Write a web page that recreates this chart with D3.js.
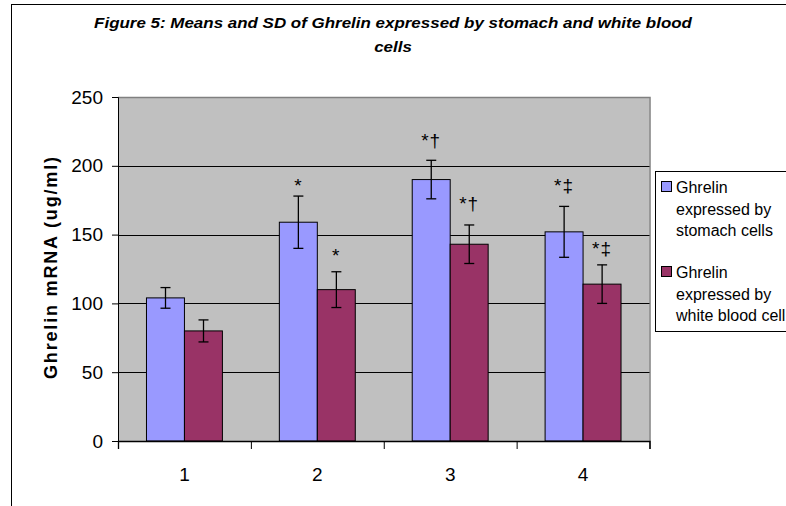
<!DOCTYPE html>
<html>
<head>
<meta charset="utf-8">
<script src="https://cdn.jsdelivr.net/npm/d3@7"></script>
<style>
  html, body { margin: 0; padding: 0; background: #fff; }
  svg { display: block; }
  text { font-family: "Liberation Sans", Arial, sans-serif; fill: #000; }
</style>
</head>
<body>
<svg id="chart" width="786" height="506"></svg>
<script>
// Groups on the x axis
const categories = ["1", "2", "3", "4"];
const seriesNames = ["stomach", "wbc"];
const legendLines = [
  ["Ghrelin", "expressed by", "stomach cells"],
  ["Ghrelin", "expressed by", "white blood cell"]
];

// Means and standard deviations (ug/ml)
const stomachMeans = [104, 159, 190, 152];
const stomachSD = [7.5, 19, 14, 18.5];
const wbcMeans = [80, 110, 143, 114];
const wbcSD = [8, 13, 14, 14];

// Significance marks and the value level their baseline sits at
const stomachMarks = ["", "*", "*\u2020", "*\u2021"];
const stomachMarkAt = [0, 181, 214, 181];
const wbcMarks = ["", "*", "*\u2020", "*\u2021"];
const wbcMarkAt = [0, 130, 168, 135.5];

const yTicks = [0, 50, 100, 150, 200, 250];

const colors = { stomach: "#9999FF", wbc: "#993366" };

const svg = d3.select("#chart");
const plot = { left: 118, right: 649.5, top: 97, bottom: 441 };

// Chart frame
svg.append("rect")
  .attr("x", 11.5).attr("y", 4.5)
  .attr("width", 900).attr("height", 700)
  .attr("fill", "#fff").attr("stroke", "#000").attr("stroke-width", 1);

// Scales
const x = d3.scaleBand().domain(categories).range([plot.left, plot.right]);
const xSub = d3.scaleBand().domain(seriesNames).range([0, x.bandwidth()])
  .paddingInner(0).paddingOuter(0.75);
const y = d3.scaleLinear().domain([0, 250]).range([plot.bottom, plot.top]);

// Plot area
svg.append("rect")
  .attr("x", plot.left).attr("y", plot.top)
  .attr("width", plot.right - plot.left).attr("height", plot.bottom - plot.top)
  .attr("fill", "#C0C0C0");
svg.append("path")
  .attr("d", `M${plot.left},${plot.top + 0.5}H${plot.right + 0.5}V${plot.bottom}`)
  .attr("fill", "none").attr("stroke", "#808080").attr("stroke-width", 1.5);

// Gridlines
svg.append("g")
  .selectAll("line")
  .data(yTicks.filter(t => t > 0 && t < 250))
  .join("line")
  .attr("x1", plot.left).attr("x2", plot.right)
  .attr("y1", d => Math.round(y(d)) + 0.5).attr("y2", d => Math.round(y(d)) + 0.5)
  .attr("stroke", "#000").attr("stroke-width", 1);

// Bars
const rows = categories.map((c, i) => ({
  cat: c,
  items: [
    { key: "stomach", mean: stomachMeans[i], sd: stomachSD[i], mark: stomachMarks[i], markAt: stomachMarkAt[i] },
    { key: "wbc", mean: wbcMeans[i], sd: wbcSD[i], mark: wbcMarks[i], markAt: wbcMarkAt[i] }
  ]
}));

const groups = svg.append("g").selectAll("g")
  .data(rows)
  .join("g")
  .attr("transform", d => `translate(${x(d.cat)},0)`);

groups.selectAll("rect")
  .data(d => d.items)
  .join("rect")
  .attr("x", d => xSub(d.key))
  .attr("y", d => y(d.mean))
  .attr("width", xSub.bandwidth())
  .attr("height", d => y(0) - y(d.mean))
  .attr("fill", d => colors[d.key])
  .attr("stroke", "#000").attr("stroke-width", 1);

// Error bars
const err = groups.selectAll("g.err")
  .data(d => d.items)
  .join("g").attr("class", "err")
  .attr("transform", d => `translate(${Math.round(xSub(d.key) + xSub.bandwidth() / 2) + 0.5},0)`);
err.append("line")
  .attr("x1", 0).attr("x2", 0)
  .attr("y1", d => y(d.mean + d.sd)).attr("y2", d => y(d.mean - d.sd))
  .attr("stroke", "#000").attr("stroke-width", 1.3);
err.selectAll("line.cap")
  .data(d => [d.mean + d.sd, d.mean - d.sd])
  .join("line").attr("class", "cap")
  .attr("x1", -5).attr("x2", 5)
  .attr("y1", d => y(d)).attr("y2", d => y(d))
  .attr("stroke", "#000").attr("stroke-width", 1.3);

// Significance marks
groups.selectAll("text.mark")
  .data(d => d.items.filter(it => it.mark))
  .join("text").attr("class", "mark")
  .attr("x", d => xSub(d.key) + xSub.bandwidth() / 2)
  .attr("y", d => y(d.markAt))
  .attr("text-anchor", "middle")
  .style("font-size", "19px")
  .style("letter-spacing", "1px")
  .text(d => d.mark);

// Y axis
const yAxis = svg.append("g")
  .attr("transform", `translate(${plot.left},0)`)
  .call(d3.axisLeft(y).tickValues(yTicks).tickSize(6).tickPadding(9));
yAxis.select(".domain").attr("stroke", "#000");
yAxis.selectAll("line").attr("stroke", "#000");
yAxis.selectAll("text").style("font-size", "19px").attr("fill", "#000");

// X axis: boundary ticks plus centered category labels
const xEdges = d3.scaleLinear().domain([0, categories.length]).range([plot.left, plot.right]);
const xAxis = svg.append("g")
  .attr("transform", `translate(0,${plot.bottom})`)
  .call(d3.axisBottom(xEdges).tickValues(d3.range(categories.length + 1)).tickSize(8).tickFormat(""));
xAxis.select(".domain").attr("stroke", "#000").attr("stroke-width", 1.3);
xAxis.selectAll("line").attr("stroke", "#000");

const xLabels = svg.append("g")
  .attr("transform", `translate(0,${plot.bottom})`)
  .call(d3.axisBottom(x).tickSize(0).tickPadding(27));
xLabels.select(".domain").remove();
xLabels.selectAll("text").style("font-size", "19px").attr("fill", "#000");

// Y axis title
svg.append("text")
  .attr("transform", "translate(57,268) rotate(-90)")
  .attr("text-anchor", "middle")
  .style("font-size", "18px").style("font-weight", "bold")
  .attr("textLength", 222).attr("lengthAdjust", "spacing")
  .text("Ghrelin mRNA (ug/ml)");

// Title (condensed bold italic)
const title = svg.append("g").attr("class", "title");
const t1 = title.append("text")
  .attr("x", 0).attr("y", 28)
  .attr("text-anchor", "middle")
  .style("font-size", "15px").style("font-weight", "bold").style("font-style", "italic")
  .text("Figure 5: Means and SD of Ghrelin expressed by stomach and white blood");
title.append("text")
  .attr("x", 0).attr("y", 52)
  .attr("text-anchor", "middle")
  .style("font-size", "15px").style("font-weight", "bold").style("font-style", "italic")
  .text("cells");
const naturalW = t1.node().getComputedTextLength();
title.attr("transform", `translate(393,0) scale(${598 / naturalW},1)`);

// Legend
const legend = svg.append("g");
legend.append("rect")
  .attr("x", 655.5).attr("y", 171.5)
  .attr("width", 200).attr("height", 160)
  .attr("fill", "#fff").attr("stroke", "#000").attr("stroke-width", 1);
const entryTop = [181.5, 266.5];
seriesNames.forEach((s, i) => {
  legend.append("rect")
    .attr("x", 661.5).attr("y", entryTop[i])
    .attr("width", 10).attr("height", 10)
    .attr("fill", colors[s]).attr("stroke", "#000").attr("stroke-width", 1);
  legendLines[i].forEach((ln, j) => {
    legend.append("text")
      .attr("x", 676).attr("y", entryTop[i] + 11.5 + j * 21.5)
      .style("font-size", "16px")
      .text(ln);
  });
});
</script>
</body>
</html>
